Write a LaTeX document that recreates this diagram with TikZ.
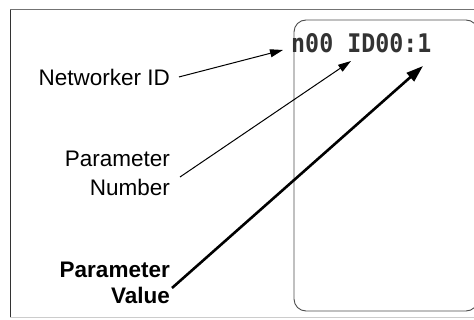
\documentclass[tikz,border=0pt]{standalone}
\usepackage{fontspec}
\setmainfont{Liberation Sans}
\newfontfamily\lcdfont{DejaVu Sans Mono}
\usetikzlibrary{arrows.meta}
\begin{document}
\begin{tikzpicture}[x=1pt, y=-1pt,
    lbl/.style={anchor=east, inner sep=0pt, align=right},
    lcd/.style={anchor=base west, inner sep=0pt, text=black!80, font=\lcdfont\bfseries\fontsize{23.3}{24}\selectfont},
    ptr/.style={line width=1pt, -{Triangle[length=13pt,width=8pt]}},
    bigptr/.style={line width=2.6pt, -{Triangle[length=17pt,width=11pt]}}]
\useasboundingbox (0,0) rectangle (474,320);
%   frame and display window
\draw[black!55, line width=1pt] (10,10) -- (480,10);
\draw[black!80, line width=1pt] (10,10) -- (10,318);
\draw[black!20, line width=1pt] (10,318) -- (480,318);
\draw[black!70, line width=0.9pt, rounded corners=12pt] (294,20) rectangle (478,311);
\node[lcd] (disp) at (291,53) {\scalebox{1}[1.1]{n00 ID00:1}};
\coordinate (tipid) at (283,50);
\coordinate (tipnum) at (351,61);
\coordinate (tipval) at (423,66);
%   labels
\node[lbl, anchor=base east, font=\fontsize{22.5}{28}\selectfont] (netid) at (170,86) {Networker ID};
\node[lbl, font=\fontsize{22.5}{29}\selectfont] (pnum) at (170,173.5) {Parameter\\Number};
\node[lbl, font=\bfseries\fontsize{22.5}{26}\selectfont] (pval) at (170,283) {Parameter\\Value};
\draw[ptr] ([shift={(9,-1)}]netid.east) -- (tipid);
\draw[ptr] ([shift={(10,3.5)}]pnum.east) -- (tipnum);
\draw[bigptr] ([shift={(2,5)}]pval.east) -- (tipval);
\end{tikzpicture}
\end{document}
